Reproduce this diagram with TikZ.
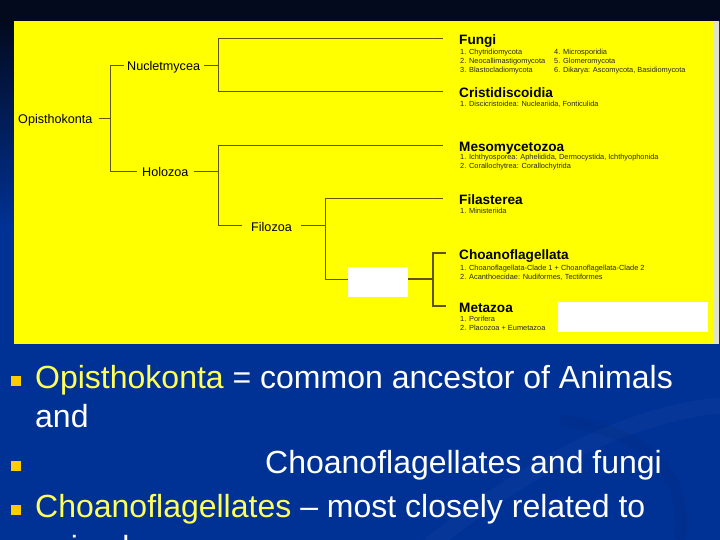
\documentclass[tikz,border=0pt]{standalone}
\usepackage{fontspec}
\setmainfont{Liberation Sans}
\definecolor{bgblue}{RGB}{0,50,150}
\definecolor{topdark}{RGB}{3,10,30}
\definecolor{treeline}{RGB}{95,85,0}
\definecolor{txtyellow}{RGB}{255,255,90}
\definecolor{bulletgold}{RGB}{255,204,0}
\definecolor{edgegray}{RGB}{225,225,210}
\definecolor{panelyellow}{RGB}{255,255,0}
\begin{document}
\begin{tikzpicture}[x=1pt,y=-1pt,
  tree/.style={draw=treeline, line width=1pt},
  treethick/.style={draw=treeline, line width=2pt},
  treelabel/.style={anchor=base west, inner sep=0pt, text height=10pt, text depth=0pt, font=\fontsize{12.6}{14}\selectfont, text=black},
  cladehead/.style={anchor=base west, inner sep=0pt, text height=12pt, text depth=0pt, font=\bfseries\fontsize{13.6}{15}\selectfont, text=black},
  cladeitem/.style={anchor=base west, inner sep=0pt, font=\fontsize{7.4}{8}\selectfont, text=black!85},
  slidetext/.style={anchor=base west, inner sep=0pt, font=\fontsize{32}{36}\selectfont, text=white},
  bulletsq/.style={fill=bulletgold, minimum size=10pt, inner sep=0pt},
  whitebox/.style={fill=white, inner sep=0pt}]
\clip (0,0) rectangle (720,540);
% background
\fill[bgblue] (0,0) rectangle (720,540);
\draw[bgblue!80!white, line width=16pt, opacity=0.12] (430,545) .. controls (560,440) and (660,410) .. (725,405);
\draw[bgblue!70!black, line width=12pt, opacity=0.15] (560,420) .. controls (640,430) and (690,470) .. (680,540);
\fill[topdark] (0,0) rectangle (720,21);
\shade[top color=topdark, bottom color=bgblue] (0,21) rectangle (14,230);
% yellow panel
\fill[panelyellow] (14,21) rectangle (714,344);
\fill[edgegray] (714,21) rectangle (719,344);
% tree labels
\node[treelabel] (opi) at (18,124) {Opisthokonta};
\node[treelabel] (nuc) at (127,71) {Nucletmycea};
\node[treelabel] (hol) at (142,177) {Holozoa};
\node[treelabel] (fil) at (251,231) {Filozoa};
% clade headings
\node[cladehead] (fungi) at (459,45) {Fungi};
\node[cladehead] (cris) at (459,98) {Cristidiscoidia};
\node[cladehead] (meso) at (459,152) {Mesomycetozoa};
\node[cladehead] (fila) at (459,205) {Filasterea};
\node[cladehead] (choano) at (459,259) {Choanoflagellata};
\node[cladehead] (meta) at (459,312) {Metazoa};
% clade items
\node[cladeitem] (f1) at (460,55) {1. Chytridiomycota};
\node[cladeitem] (f2) at (460,64) {2. Neocallimastigomycota};
\node[cladeitem] (f3) at (460,73) {3. Blastocladiomycota};
\node[cladeitem] (f4) at (554,55) {4. Microsporidia};
\node[cladeitem] (f5) at (554,64) {5. Glomeromycota};
\node[cladeitem] (f6) at (554,73) {6. Dikarya: Ascomycota, Basidiomycota};
\node[cladeitem] (c1) at (460,107) {1. Discicristoidea: Nucleariida, Fonticulida};
\node[cladeitem] (m1) at (460,160) {1. Ichthyosporea: Aphelidida, Dermocystida, Ichthyophonida};
\node[cladeitem] (m2) at (460,169) {2. Corallochytrea: Corallochytrida};
\node[cladeitem] (fi1) at (460,214) {1. Ministeriida};
\node[cladeitem] (ch1) at (460,270) {1. Choanoflagellata-Clade 1 + Choanoflagellata-Clade 2};
\node[cladeitem] (ch2) at (460,279) {2. Acanthoecidae: Nudiformes, Tectiformes};
\node[cladeitem] (me1) at (460,321) {1. Porifera};
\node[cladeitem] (me2) at (460,330) {2. Placozoa + Eumetazoa};
% junctions
\coordinate (jA) at (110,119);
\coordinate (jN) at (218,66);
\coordinate (jH) at (218,172);
\coordinate (jF) at (325,226);
\coordinate (jC) at (433,279);
% connectors
\draw[tree] ([xshift=6pt]opi.east) -- (jA);
\draw[tree] (jA) |- ([xshift=-3pt]nuc.west);
\draw[tree] (jA) |- ([xshift=-5pt]hol.west);
\draw[tree] ([xshift=4pt]nuc.east) -- (jN);
\draw[tree] (jN) |- ([xshift=-16pt]fungi.west);
\draw[tree] (jN) |- ([xshift=-16pt]cris.west);
\draw[tree] ([xshift=5pt]hol.east) -- (jH);
\draw[tree] (jH) |- ([xshift=-16pt]meso.west);
\draw[tree] (jH) |- ([xshift=-9pt]fil.west);
\draw[tree] ([xshift=9pt]fil.east) -- (jF);
\draw[tree] (jF) |- ([xshift=-16pt]fila.west);
\draw[tree] (jF) |- (jC);
\node[whitebox, minimum width=60pt, minimum height=30pt] (w1) at (378,282) {};
\draw[treethick] (w1.east |- jC) -- (jC);
\draw[tree, line width=1.5pt] (jC) |- ([xshift=-13pt]choano.west);
\draw[tree, line width=1.5pt] (jC) |- ([xshift=-13pt]meta.west);
\node[whitebox, minimum width=150pt, minimum height=30pt] (w2) at (633,317) {};
% bullet text
\node[bulletsq] (b1) at (16,380.5) {};
\node[slidetext] (l1) at (35,388) {\textcolor{txtyellow}{Opisthokonta} = common ancestor of Animals};
\node[slidetext] (l2) at (35,427) {and};
\node[bulletsq] (b2) at (16,465.5) {};
\node[slidetext] (l3) at (265,473) {Choanoflagellates and fungi};
\node[bulletsq] (b3) at (16,509.5) {};
\node[slidetext] (l4) at (35,517) {\textcolor{txtyellow}{Choanoflagellates} – most closely related to};
\node[slidetext] (l5) at (35,558) {animals};
\end{tikzpicture}
\end{document}
